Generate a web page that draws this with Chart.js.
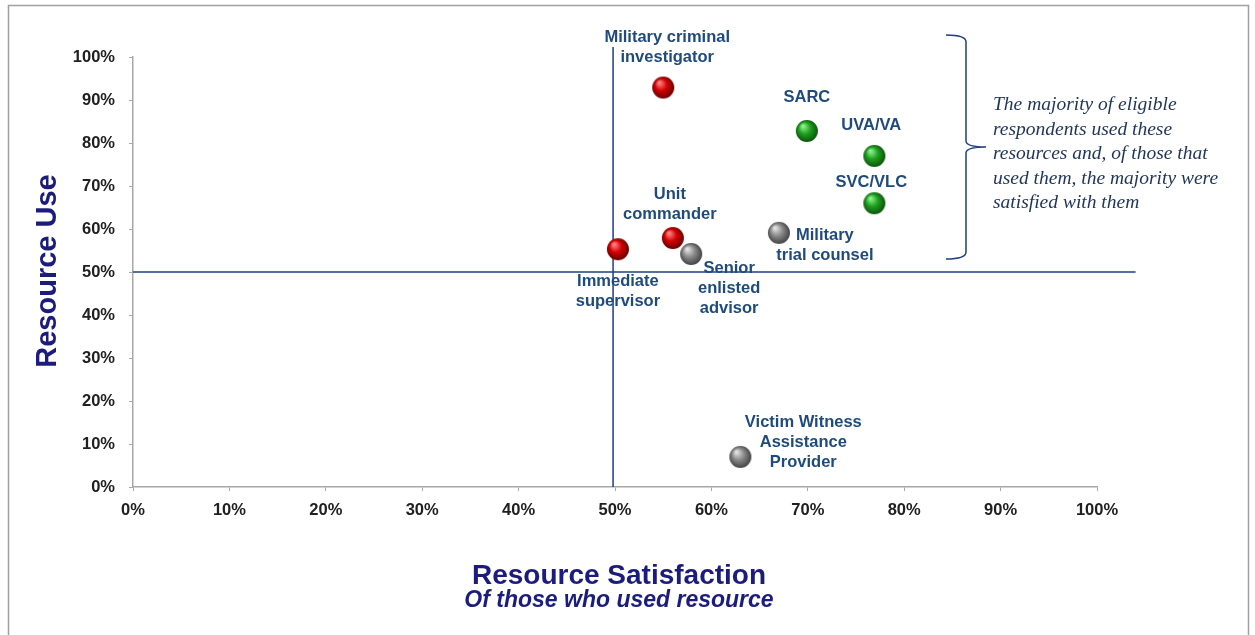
<!DOCTYPE html>
<html>
<head>
<meta charset="utf-8">
<script src="https://cdn.jsdelivr.net/npm/chart.js@4.4.1/dist/chart.umd.min.js"></script>
<style>
  html, body { margin: 0; padding: 0; background: #fff; }
</style>
</head>
<body>
<canvas id="chart" width="1255" height="635"></canvas>
<script>
// Resources: satisfaction (x) vs use (y), in percent
const resourceNames = ['Military criminal investigator', 'Unit commander', 'Immediate supervisor',
                       'SARC', 'UVA/VA', 'SVC/VLC',
                       'Military trial counsel', 'Senior enlisted advisor', 'Victim Witness Assistance Provider'];
const satisfaction = [55.0, 56.0, 50.3, 69.9, 76.9, 76.9, 67.0, 57.9, 63.0];
const resourceUse  = [92.9, 57.9, 55.3, 82.8, 77.0, 66.0, 59.1, 54.2, 7.0];
const resourceGroup = ['red', 'red', 'red', 'green', 'green', 'green', 'gray', 'gray', 'gray'];
const tickLabels = ['0%', '10%', '20%', '30%', '40%', '50%', '60%', '70%', '80%', '90%', '100%'];
const noteLines = ['The majority of eligible', 'respondents used these', 'resources and, of those that',
                   'used them, the majority were', 'satisfied with them'];

// how each point label is broken and where it sits (px, relative to the ball)
const labelLayout = {
    'Military criminal investigator': { lines: ['Military criminal', 'investigator'], dx: 4, dy: -50 },
    'Unit commander': { lines: ['Unit', 'commander'], dx: -3, dy: -44 },
    'Immediate supervisor': { lines: ['Immediate', 'supervisor'], dx: 0, dy: 32 },
    'SARC': { lines: ['SARC'], dx: 0, dy: -34 },
    'UVA/VA': { lines: ['UVA/VA'], dx: -3, dy: -30 },
    'SVC/VLC': { lines: ['SVC/VLC'], dx: -3, dy: -21 },
    'Military trial counsel': { lines: ['Military', 'trial counsel'], dx: 46, dy: 3 },
    'Senior enlisted advisor': { lines: ['Senior', 'enlisted', 'advisor'], dx: 38, dy: 15 },
    'Victim Witness Assistance Provider': { lines: ['Victim Witness', 'Assistance', 'Provider'], dx: 63, dy: -34 }
};

const LINE_COLOR = '#1f3f7f';
const LABEL_COLOR = '#1f4a7d';
const TITLE_COLOR = '#1c1c7c';

// shaded ball image used as point style
function makeBall(light, mid, dark) {
    const r = 11;
    const c = document.createElement('canvas');
    c.width = c.height = r * 2 + 2;
    const g = c.getContext('2d');
    const grad = g.createRadialGradient(r - 3, r - 4, 1, r + 1, r + 1, r + 1);
    grad.addColorStop(0, light);
    grad.addColorStop(0.45, mid);
    grad.addColorStop(1, dark);
    g.fillStyle = grad;
    g.beginPath();
    g.arc(r + 1, r + 1, r, 0, Math.PI * 2);
    g.fill();
    return c;
}
const balls = {
    red: makeBall('#ff8080', '#d40000', '#5a0000'),
    green: makeBall('#8cf08c', '#1ea01e', '#0a4a0a'),
    gray: makeBall('#e0e0e0', '#8a8a8a', '#3a3a3a')
};

function groupPoints(name) {
    const pts = [];
    resourceNames.forEach((n, i) => {
        if (resourceGroup[i] === name) pts.push({ x: satisfaction[i], y: resourceUse[i], name: n });
    });
    return pts;
}

const quadrantLine = (data) => ({
    data: data,
    showLine: true,
    borderColor: LINE_COLOR,
    borderWidth: 1.5,
    pointRadius: 0,
    clip: false,
    order: 5
});

const ballSet = (name) => ({
    data: groupPoints(name),
    pointStyle: balls[name],
    pointRadius: 11,
    order: 1
});

// point labels, bracket, note, titles and frame
const decorations = {
    id: 'decorations',
    afterDatasetsDraw(chart) {
        const ctx = chart.ctx;
        const x = chart.scales.x, y = chart.scales.y;
        ctx.save();

        // frame
        ctx.strokeStyle = '#a0a0a0';
        ctx.lineWidth = 1.5;
        ctx.beginPath();
        ctx.moveTo(8.5, 640);
        ctx.lineTo(8.5, 5.5);
        ctx.lineTo(1248.5, 5.5);
        ctx.lineTo(1248.5, 640);
        ctx.stroke();

        // point labels
        ctx.fillStyle = LABEL_COLOR;
        ctx.font = 'bold 16.5px "Liberation Sans", Arial, sans-serif';
        ctx.textAlign = 'center';
        ctx.textBaseline = 'middle';
        resourceNames.forEach((n, i) => {
            const lay = labelLayout[n];
            const px = x.getPixelForValue(satisfaction[i]);
            const py = y.getPixelForValue(resourceUse[i]);
            lay.lines.forEach((t, k) => ctx.fillText(t, px + lay.dx, py + lay.dy + k * 20));
        });

        // bracket
        ctx.strokeStyle = LINE_COLOR;
        ctx.lineWidth = 1.5;
        ctx.beginPath();
        ctx.moveTo(946, 35);
        ctx.quadraticCurveTo(966, 35, 966, 42);
        ctx.lineTo(966, 141);
        ctx.quadraticCurveTo(966, 147, 986, 147);
        ctx.moveTo(966, 153);
        ctx.quadraticCurveTo(966, 147, 986, 147);
        ctx.moveTo(966, 153);
        ctx.lineTo(966, 252);
        ctx.quadraticCurveTo(966, 259, 946, 259);
        ctx.stroke();

        // note text
        ctx.fillStyle = '#1f3458';
        ctx.font = 'italic 19.5px "Liberation Serif", "DejaVu Serif", serif';
        ctx.textAlign = 'left';
        noteLines.forEach((t, k) => ctx.fillText(t, 993, 105 + k * 24.5));

        // axis titles
        ctx.fillStyle = TITLE_COLOR;
        ctx.textAlign = 'center';
        ctx.font = 'bold 28px "Liberation Sans", Arial, sans-serif';
        ctx.fillText('Resource Satisfaction', 619, 576);
        ctx.font = 'italic bold 23px "Liberation Sans", Arial, sans-serif';
        ctx.fillText('Of those who used resource', 619, 601);
        ctx.translate(48, 271);
        ctx.rotate(-Math.PI / 2);
        ctx.font = 'bold 29px "Liberation Sans", Arial, sans-serif';
        ctx.fillText('Resource Use', 0, 0);

        ctx.restore();
    }
};

const tickFont = { family: '"Liberation Sans", Arial, sans-serif', size: 16.5, weight: 'bold' };

new Chart(document.getElementById('chart'), {
    type: 'scatter',
    data: {
        datasets: [
            ballSet('red'),
            ballSet('green'),
            ballSet('gray'),
            quadrantLine([{ x: 49.8, y: 0 }, { x: 49.8, y: 102.3 }]),
            quadrantLine([{ x: 0, y: 50 }, { x: 104, y: 50 }])
        ]
    },
    options: {
        responsive: false,
        animation: false,
        layout: { padding: { top: 57, right: 158, bottom: 0, left: 0 } },
        plugins: {
            legend: { display: false },
            tooltip: { enabled: false }
        },
        scales: {
            x: {
                min: 0, max: 100,
                afterFit(scale) { scale.height = 148; },
                border: { color: '#a8a8a8', width: 1.5 },
                grid: { drawOnChartArea: false, color: '#a8a8a8', tickLength: 4 },
                ticks: {
                    stepSize: 10, padding: 10, color: '#202020', font: tickFont,
                    callback: (v) => tickLabels[Math.round(v / 10)]
                }
            },
            y: {
                min: 0, max: 100,
                afterFit(scale) { scale.width = 133; },
                border: { color: '#a8a8a8', width: 1.5 },
                grid: { drawOnChartArea: false, color: '#a8a8a8', tickLength: 4 },
                ticks: {
                    stepSize: 10, padding: 14, color: '#202020', font: tickFont,
                    callback: (v) => tickLabels[Math.round(v / 10)]
                }
            }
        }
    },
    plugins: [decorations]
});
</script>
</body>
</html>
